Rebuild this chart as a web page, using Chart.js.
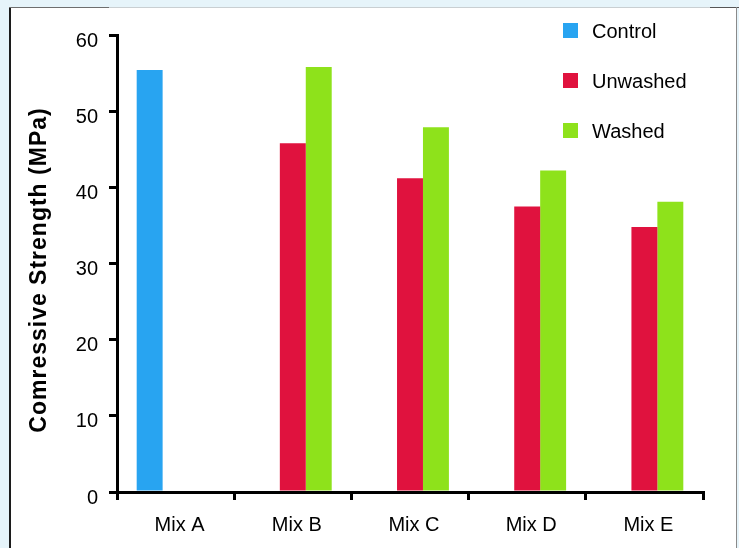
<!DOCTYPE html>
<html>
<head>
<meta charset="utf-8">
<script src="https://cdn.jsdelivr.net/npm/chart.js@4.4.0/dist/chart.umd.min.js"></script>
<style>
  html, body { margin: 0; padding: 0; background: #e6f4fa; }
  #wrap { width: 739px; height: 548px; position: relative; }
  canvas { display: block; }
</style>
</head>
<body>
<div id="wrap"><canvas id="chart" width="739" height="548"></canvas></div>
<script>
// Compressive strength per mix
const categories = ['Mix A', 'Mix B', 'Mix C', 'Mix D', 'Mix E'];
const controlValues  = [55.4, null, null, null, null];
const unwashedValues = [null, 45.8, 41.2, 37.5, 34.8];
const washedValues   = [null, 55.8, 47.9, 42.2, 38.1];
const yTickValues = [0, 10, 20, 30, 40, 50, 60];
const seriesNames = ['Control', 'Unwashed', 'Washed'];
const seriesColors = ['#28a4f1', '#e0123e', '#8ee21b'];
const yTitleText = 'Comressive Strength (MPa)';

const FONT = '"Liberation Sans", Arial, sans-serif';

// Page frame: tinted surround, white panel, thin border lines
const framePlugin = {
  id: 'frame',
  beforeDraw(chart) {
    const ctx = chart.ctx;
    ctx.save();
    ctx.fillStyle = '#e6f4fa';
    ctx.fillRect(0, 0, chart.width, chart.height);
    ctx.fillStyle = '#ffffff';
    ctx.fillRect(10, 8, 726, chart.height - 8);
    // left edge
    ctx.fillStyle = '#1c1c1c';
    ctx.fillRect(9, 7, 2, chart.height - 7);
    // top edge
    ctx.fillStyle = '#6e6e6e';
    ctx.fillRect(9, 7, 100, 1);
    ctx.fillStyle = '#c9cfd2';
    ctx.fillRect(109, 7, 601, 1);
    ctx.fillStyle = '#555555';
    ctx.fillRect(710, 7, 29, 1);
    // right edge
    ctx.fillStyle = '#8a8a8a';
    ctx.fillRect(736, 7, 1, chart.height - 7);
    ctx.restore();
  }
};

// Rotated axis title
const yTitlePlugin = {
  id: 'yTitle',
  afterDraw(chart) {
    const ctx = chart.ctx;
    ctx.save();
    ctx.translate(40, 270);
    ctx.rotate(-Math.PI / 2);
    ctx.font = 'bold 23px ' + FONT;
    if ('letterSpacing' in ctx) ctx.letterSpacing = '1px';
    ctx.fillStyle = '#000';
    ctx.textAlign = 'center';
    ctx.textBaseline = 'middle';
    ctx.fillText(yTitleText, 0, 0);
    ctx.restore();
  }
};

// Legend stacked in the upper right of the plot
const legendPlugin = {
  id: 'sideLegend',
  afterDraw(chart) {
    const ctx = chart.ctx;
    const rows = [31, 81, 131];
    ctx.save();
    ctx.font = '20px ' + FONT;
    ctx.textBaseline = 'middle';
    ctx.textAlign = 'left';
    chart.data.datasets.forEach((ds, i) => {
      ctx.fillStyle = ds.backgroundColor;
      ctx.fillRect(563, rows[i] - 8, 15, 15);
      ctx.fillStyle = '#000';
      ctx.fillText(ds.label, 592, rows[i] + 1);
    });
    ctx.restore();
  }
};

const seriesData = [controlValues, unwashedValues, washedValues];

new Chart(document.getElementById('chart'), {
  type: 'bar',
  data: {
    labels: categories,
    datasets: seriesData.map((vals, i) => ({
      label: seriesNames[i],
      data: vals,
      backgroundColor: seriesColors[i],
      borderWidth: 0,
      barPercentage: 1.0,
      categoryPercentage: 0.664
    }))
  },
  options: {
    responsive: false,
    animation: false,
    layout: { padding: { top: 35, right: 36, left: 0, bottom: 0 } },
    plugins: {
      legend: { display: false },
      tooltip: { enabled: false }
    },
    scales: {
      x: {
        afterFit(scale) { scale.height = 56; },
        ticks: {
          color: '#000',
          font: { family: FONT, size: 20 },
          padding: 13,
          labelOffset: 4
        },
        grid: {
          offset: true,
          drawOnChartArea: false,
          drawTicks: true,
          tickLength: 8,
          color: '#000',
          lineWidth: 3
        },
        border: { display: true, color: '#000', width: 3 }
      },
      y: {
        min: 0,
        max: 60,
        afterFit(scale) { scale.width = 117; },
        afterBuildTicks(scale) { scale.ticks = yTickValues.map(v => ({ value: v })); },
        ticks: {
          color: '#000',
          font: { family: FONT, size: 20 },
          padding: 11,
          labelOffset: 6
        },
        grid: {
          drawOnChartArea: false,
          drawTicks: true,
          tickLength: 8,
          color: '#000',
          lineWidth: 3
        },
        border: { display: true, color: '#000', width: 3 }
      }
    }
  },
  plugins: [framePlugin, yTitlePlugin, legendPlugin]
});
</script>
</body>
</html>
